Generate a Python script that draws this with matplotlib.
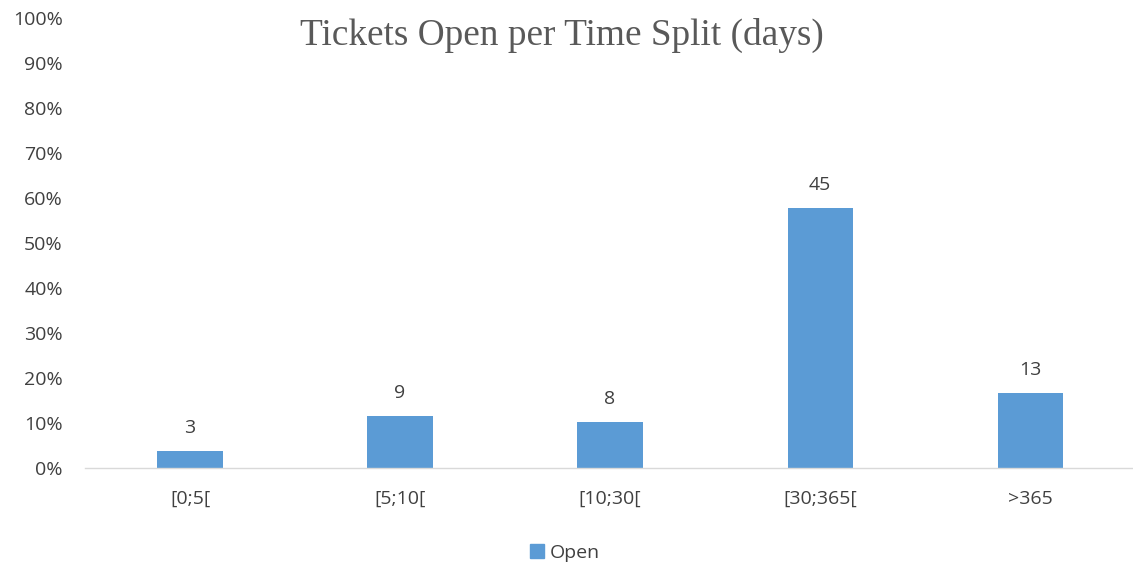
import matplotlib
matplotlib.use("Agg")
import matplotlib.pyplot as plt
from matplotlib.patches import Patch

categories = ["[0;5[", "[5;10[", "[10;30[", "[30;365[", ">365"]
counts = [3, 9, 8, 45, 13]
yticks = [0, 10, 20, 30, 40, 50, 60, 70, 80, 90, 100]

total = sum(counts)
pct = [c / total * 100 for c in counts]

fig = plt.figure(figsize=(11.33, 5.68), dpi=100)
ax = fig.add_axes([85/1133, 1 - 468/568, (1133 - 85)/1133, 450/568])
bar_color = "#5B9BD5"
text_color = "#404040"
fam = "Open Sans"
fs = 14
x = list(range(len(categories)))
bars = ax.bar(x, pct, width=0.31, color=bar_color, zorder=2)
for xi, p, c in zip(x, pct, counts):
    ax.annotate(str(c), (xi, p), xytext=(0, 10), textcoords="offset points",
                ha="center", va="bottom", fontsize=fs, color="#404040", family=fam)
ax.set_xlim(-0.5, 4.49)
ax.set_ylim(0, 100)
ax.set_yticks(yticks)
ax.set_yticklabels([f"{t}%" for t in yticks])
ax.set_xticks(x)
ax.set_xticklabels(categories)
for lab in ax.get_xticklabels() + ax.get_yticklabels():
    lab.set_fontsize(fs)
    lab.set_color(text_color)
    lab.set_family(fam)
ax.tick_params(axis="both", length=0)
ax.tick_params(axis="x", pad=16)
ax.tick_params(axis="y", pad=16)
for s in ["top", "right", "left"]:
    ax.spines[s].set_visible(False)
ax.spines["bottom"].set_color("#D9D9D9")
ax.spines["bottom"].set_linewidth(1)

fig.text(562/1133, 1 - 35/568, "Tickets Open per Time Split (days)", ha="center", va="center",
         fontsize=26.8, family="Liberation Serif", color="#595959")

fig.legend(handles=[Patch(color=bar_color, label="Open")], loc="center",
           bbox_to_anchor=(565/1133, 1 - 553/568), frameon=False,
           handlelength=0.75, handleheight=0.75, handletextpad=0.3,
           prop={"family": fam, "size": fs}, labelcolor=text_color)

fig.savefig("out.png", dpi=100)
